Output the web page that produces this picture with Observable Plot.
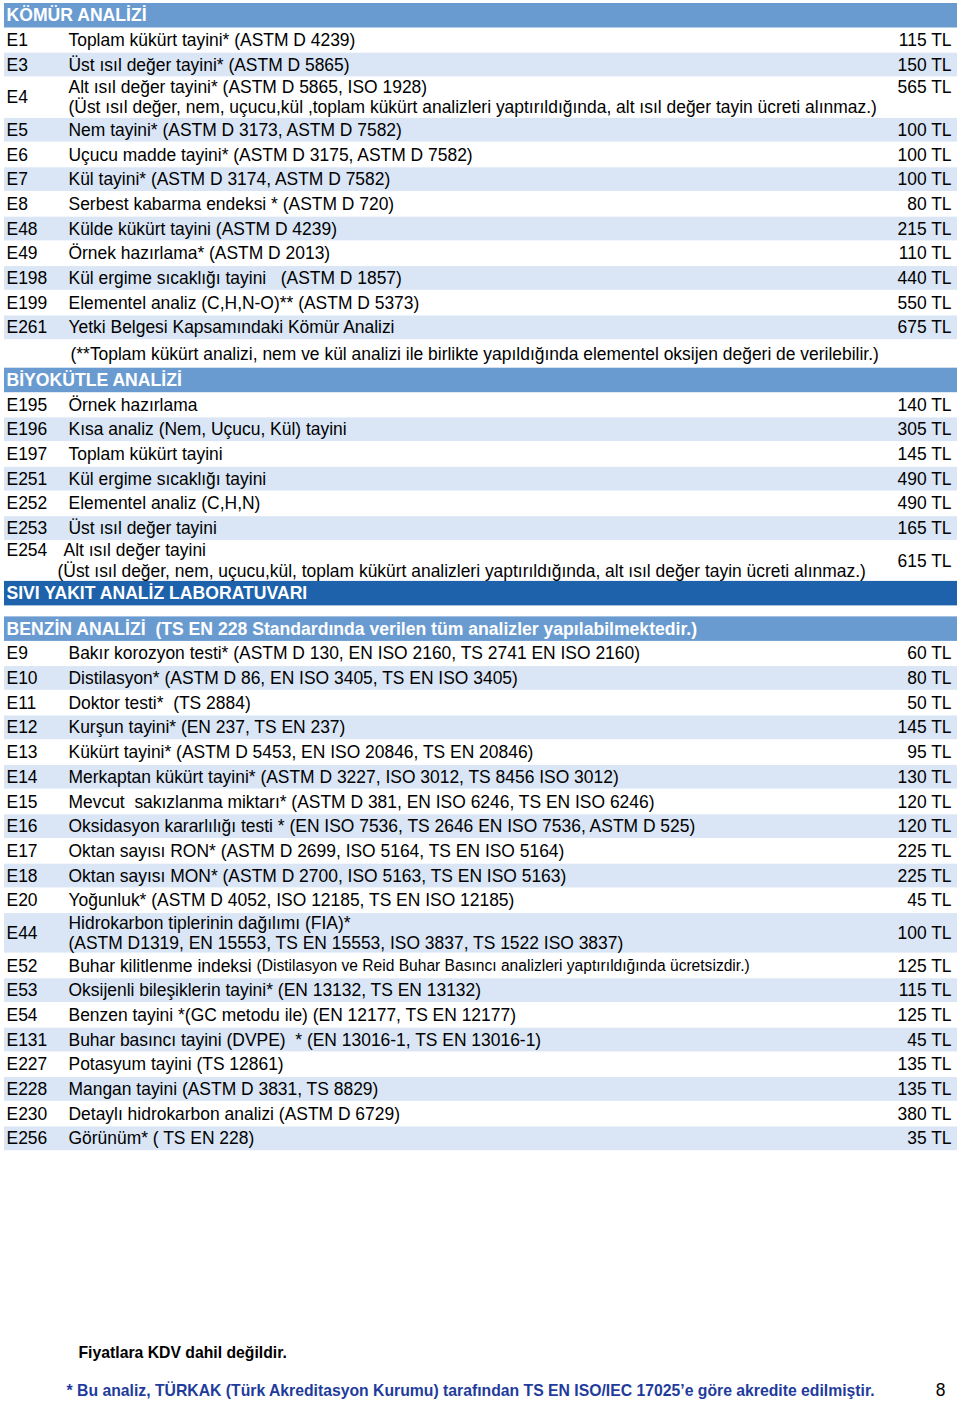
<!DOCTYPE html>
<html><head><meta charset="utf-8">
<script src="https://cdn.jsdelivr.net/npm/d3@7"></script>
<script src="https://cdn.jsdelivr.net/npm/@observablehq/plot@0.6"></script>
<style>body{margin:0;background:#fff} svg{display:block}</style>
</head><body><div id="chart"></div>
<script>
// ---------- DATA ----------
const sectionTitles = ["KÖMÜR ANALİZİ", "BİYOKÜTLE ANALİZİ", "SIVI YAKIT ANALİZ LABORATUVARI",
  "BENZİN ANALİZİ\u00a0\u00a0(TS EN 228 Standardında verilen tüm analizler yapılabilmektedir.)"];

const komurCodes = ["E1","E3","E4","E5","E6","E7","E8","E48","E49","E198","E199","E261"];
const komurTests = [
  "Toplam kükürt tayini* (ASTM D 4239)",
  "Üst ısıl değer tayini* (ASTM D 5865)",
  "Alt ısıl değer tayini* (ASTM D 5865, ISO 1928)",
  "Nem tayini* (ASTM D 3173, ASTM D 7582)",
  "Uçucu madde tayini* (ASTM D 3175, ASTM D 7582)",
  "Kül tayini* (ASTM D 3174, ASTM D 7582)",
  "Serbest kabarma endeksi * (ASTM D 720)",
  "Külde kükürt tayini (ASTM D 4239)",
  "Örnek hazırlama* (ASTM D 2013)",
  "Kül ergime sıcaklığı tayini\u00a0\u00a0\u00a0(ASTM D 1857)",
  "Elementel analiz (C,H,N-O)** (ASTM D 5373)",
  "Yetki Belgesi Kapsamındaki Kömür Analizi"];
const komurNotes = ["", "", "(Üst ısıl değer, nem, uçucu,kül ,toplam kükürt analizleri yaptırıldığında, alt ısıl değer tayin ücreti alınmaz.)",
  "", "", "", "", "", "", "", "", ""];
const komurPrices = [115, 150, 565, 100, 100, 100, 80, 215, 110, 440, 550, 675];
const komurFootnote = "(**Toplam kükürt analizi, nem ve kül analizi ile birlikte yapıldığında elementel oksijen değeri de verilebilir.)";

const biyoCodes = ["E195","E196","E197","E251","E252","E253","E254"];
const biyoTests = ["Örnek hazırlama", "Kısa analiz (Nem, Uçucu, Kül) tayini", "Toplam kükürt tayini",
  "Kül ergime sıcaklığı tayini", "Elementel analiz (C,H,N)", "Üst ısıl değer tayini", "Alt ısıl değer tayini"];
const biyoNotes = ["", "", "", "", "", "",
  "(Üst ısıl değer, nem, uçucu,kül, toplam kükürt analizleri yaptırıldığında, alt ısıl değer tayin ücreti alınmaz.)"];
const biyoPrices = [140, 305, 145, 490, 490, 165, 615];

const benzinCodes = ["E9","E10","E11","E12","E13","E14","E15","E16","E17","E18","E20","E44",
  "E52","E53","E54","E131","E227","E228","E230","E256"];
const benzinTests = [
  "Bakır korozyon testi* (ASTM D 130, EN ISO 2160, TS 2741 EN ISO 2160)",
  "Distilasyon* (ASTM D 86, EN ISO 3405, TS EN ISO 3405)",
  "Doktor testi*\u00a0\u00a0(TS 2884)",
  "Kurşun tayini* (EN 237, TS EN 237)",
  "Kükürt tayini* (ASTM D 5453, EN ISO 20846, TS EN 20846)",
  "Merkaptan kükürt tayini* (ASTM D 3227, ISO 3012, TS 8456 ISO 3012)",
  "Mevcut\u00a0\u00a0sakızlanma miktarı* (ASTM D 381, EN ISO 6246, TS EN ISO 6246)",
  "Oksidasyon kararlılığı testi * (EN ISO 7536, TS 2646 EN ISO 7536, ASTM D 525)",
  "Oktan sayısı RON* (ASTM D 2699, ISO 5164, TS EN ISO 5164)",
  "Oktan sayısı MON* (ASTM D 2700, ISO 5163, TS EN ISO 5163)",
  "Yoğunluk* (ASTM D 4052, ISO 12185, TS EN ISO 12185)",
  "Hidrokarbon tiplerinin dağılımı (FIA)*",
  "Buhar kilitlenme indeksi",
  "Oksijenli bileşiklerin tayini* (EN 13132, TS EN 13132)",
  "Benzen tayini *(GC metodu ile) (EN 12177, TS EN 12177)",
  "Buhar basıncı tayini (DVPE)\u00a0\u00a0* (EN 13016-1, TS EN 13016-1)",
  "Potasyum tayini (TS 12861)",
  "Mangan tayini (ASTM D 3831, TS 8829)",
  "Detaylı hidrokarbon analizi (ASTM D 6729)",
  "Görünüm* ( TS EN 228)"];
const benzinNotes = ["", "", "", "", "", "", "", "", "", "", "",
  "(ASTM D1319, EN 15553, TS EN 15553, ISO 3837, TS 1522 ISO 3837)",
  "", "", "", "", "", "", "", ""];
const benzinInlineNotes = {"E52": "(Distilasyon ve Reid Buhar Basıncı analizleri yaptırıldığında ücretsizdir.)"};
const benzinPrices = [60, 80, 50, 145, 95, 130, 120, 120, 225, 225, 45, 100, 125, 115, 125, 45, 135, 135, 380, 35];

const footerVat = "Fiyatlara KDV dahil değildir.";
const footerAccred = "* Bu analiz, TÜRKAK (Türk Akreditasyon Kurumu) tarafından TS EN ISO/IEC 17025’e göre akredite edilmiştir.";
const pageNumber = "8";
const currency = "TL";

// ---------- LAYOUT / STYLE ----------
const L = {top: 3, header: 24.5, row: 24.7, double: 40.5, footnote: 28, gap: 11,
  left: 4, right: 957, codeX: 6, descX: 68, priceX: 951, line1: 10, line2: 30.5,
  fs: 17.45, headFs: 17.6, smallFs: 15.6, footFs: 15.75, footY1: 1352, footY2: 1390, footX1: 78, footX2: 66, pageX: 940};
const overrides = {E4: {price: "top"}, E254: {code: "top", descX: 63, noteX: 57}};
const C = {header: "#6a9bd0", dark: "#1d62ab", light: "#dae6f6", text: "#000", foot: "#1f3c9c"};
const FONT = "'Liberation Sans', Arial, sans-serif";

// ---------- BUILD ----------
const bands = [], body = [], prices = [], heads = [], small = [];
let y = L.top;
function header(title, color) {
  bands.push({x1: L.left, x2: L.right, y1: y, y2: y + L.header, fill: color});
  heads.push({x: L.codeX, y: y + L.header / 2, text: title});
  y += L.header;
}
function section(codes, tests, notes, pr, inline = {}) {
  codes.forEach((code, i) => {
    const o = overrides[code] || {};
    const dbl = notes[i] !== "";
    const h = dbl ? L.double : L.row;
    if (i % 2 === 1) bands.push({x1: L.left, x2: L.right, y1: y + 0.5, y2: y + h - 0.5, fill: C.light});
    const mid = y + h / 2;
    const ya = dbl ? y + L.line1 : mid;
    body.push({x: L.codeX, y: o.code === "top" ? ya : mid, text: code});
    body.push({x: o.descX ?? L.descX, y: ya, text: tests[i]});
    if (dbl) body.push({x: o.noteX ?? L.descX, y: y + L.line2, text: notes[i]});
    if (inline[code]) {
      const ctx = document.createElement("canvas").getContext("2d");
      ctx.font = `${L.fs}px "Liberation Sans"`;
      small.push({x: L.descX + ctx.measureText(tests[i] + " ").width, y: ya, text: inline[code]});
    }
    prices.push({x: L.priceX, y: o.price === "top" ? ya : mid, text: `${pr[i]} ${currency}`});
    y += h;
  });
}
header(sectionTitles[0], C.header);
section(komurCodes, komurTests, komurNotes, komurPrices);
body.push({x: L.descX + 2, y: y + L.footnote / 2, text: komurFootnote});
y += L.footnote;
header(sectionTitles[1], C.header);
section(biyoCodes, biyoTests, biyoNotes, biyoPrices);
header(sectionTitles[2], C.dark);
y += L.gap;
header(sectionTitles[3], C.header);
section(benzinCodes, benzinTests, benzinNotes, benzinPrices, benzinInlineNotes);

const foot = [{x: L.footX1, y: L.footY1, text: footerVat, fill: C.text},
  {x: L.footX2, y: L.footY2, text: footerAccred, fill: C.foot}];
const page = [{x: L.pageX, y: L.footY2, text: pageNumber}];

const chart = Plot.plot({
  width: 960, height: 1403, margin: 0,
  style: {fontFamily: FONT, background: "#fff"},
  x: {domain: [0, 960], range: [0, 960], axis: null},
  y: {domain: [0, 1403], range: [0, 1403], axis: null},
  color: {type: "identity"},
  marks: [
    Plot.rect(bands, {x1: "x1", x2: "x2", y1: "y1", y2: "y2", fill: "fill"}),
    Plot.text(heads, {x: "x", y: "y", text: "text", textAnchor: "start", fontSize: L.headFs, fontWeight: "bold", fill: "#fff", fontFamily: FONT}),
    Plot.text(body, {x: "x", y: "y", text: "text", textAnchor: "start", fontSize: L.fs, fill: C.text, fontFamily: FONT}),
    Plot.text(small, {x: "x", y: "y", text: "text", textAnchor: "start", fontSize: L.smallFs, fill: C.text, fontFamily: FONT}),
    Plot.text(prices, {x: "x", y: "y", text: "text", textAnchor: "end", fontSize: L.fs, fill: C.text, fontFamily: FONT}),
    Plot.text(foot, {x: "x", y: "y", text: "text", textAnchor: "start", fontSize: L.footFs, fontWeight: "bold", fill: "fill", fontFamily: FONT}),
    Plot.text(page, {x: "x", y: "y", text: "text", textAnchor: "middle", fontSize: L.fs, fill: C.text, fontFamily: FONT})
  ]
});
document.getElementById("chart").appendChild(chart);
</script>
</body></html>
